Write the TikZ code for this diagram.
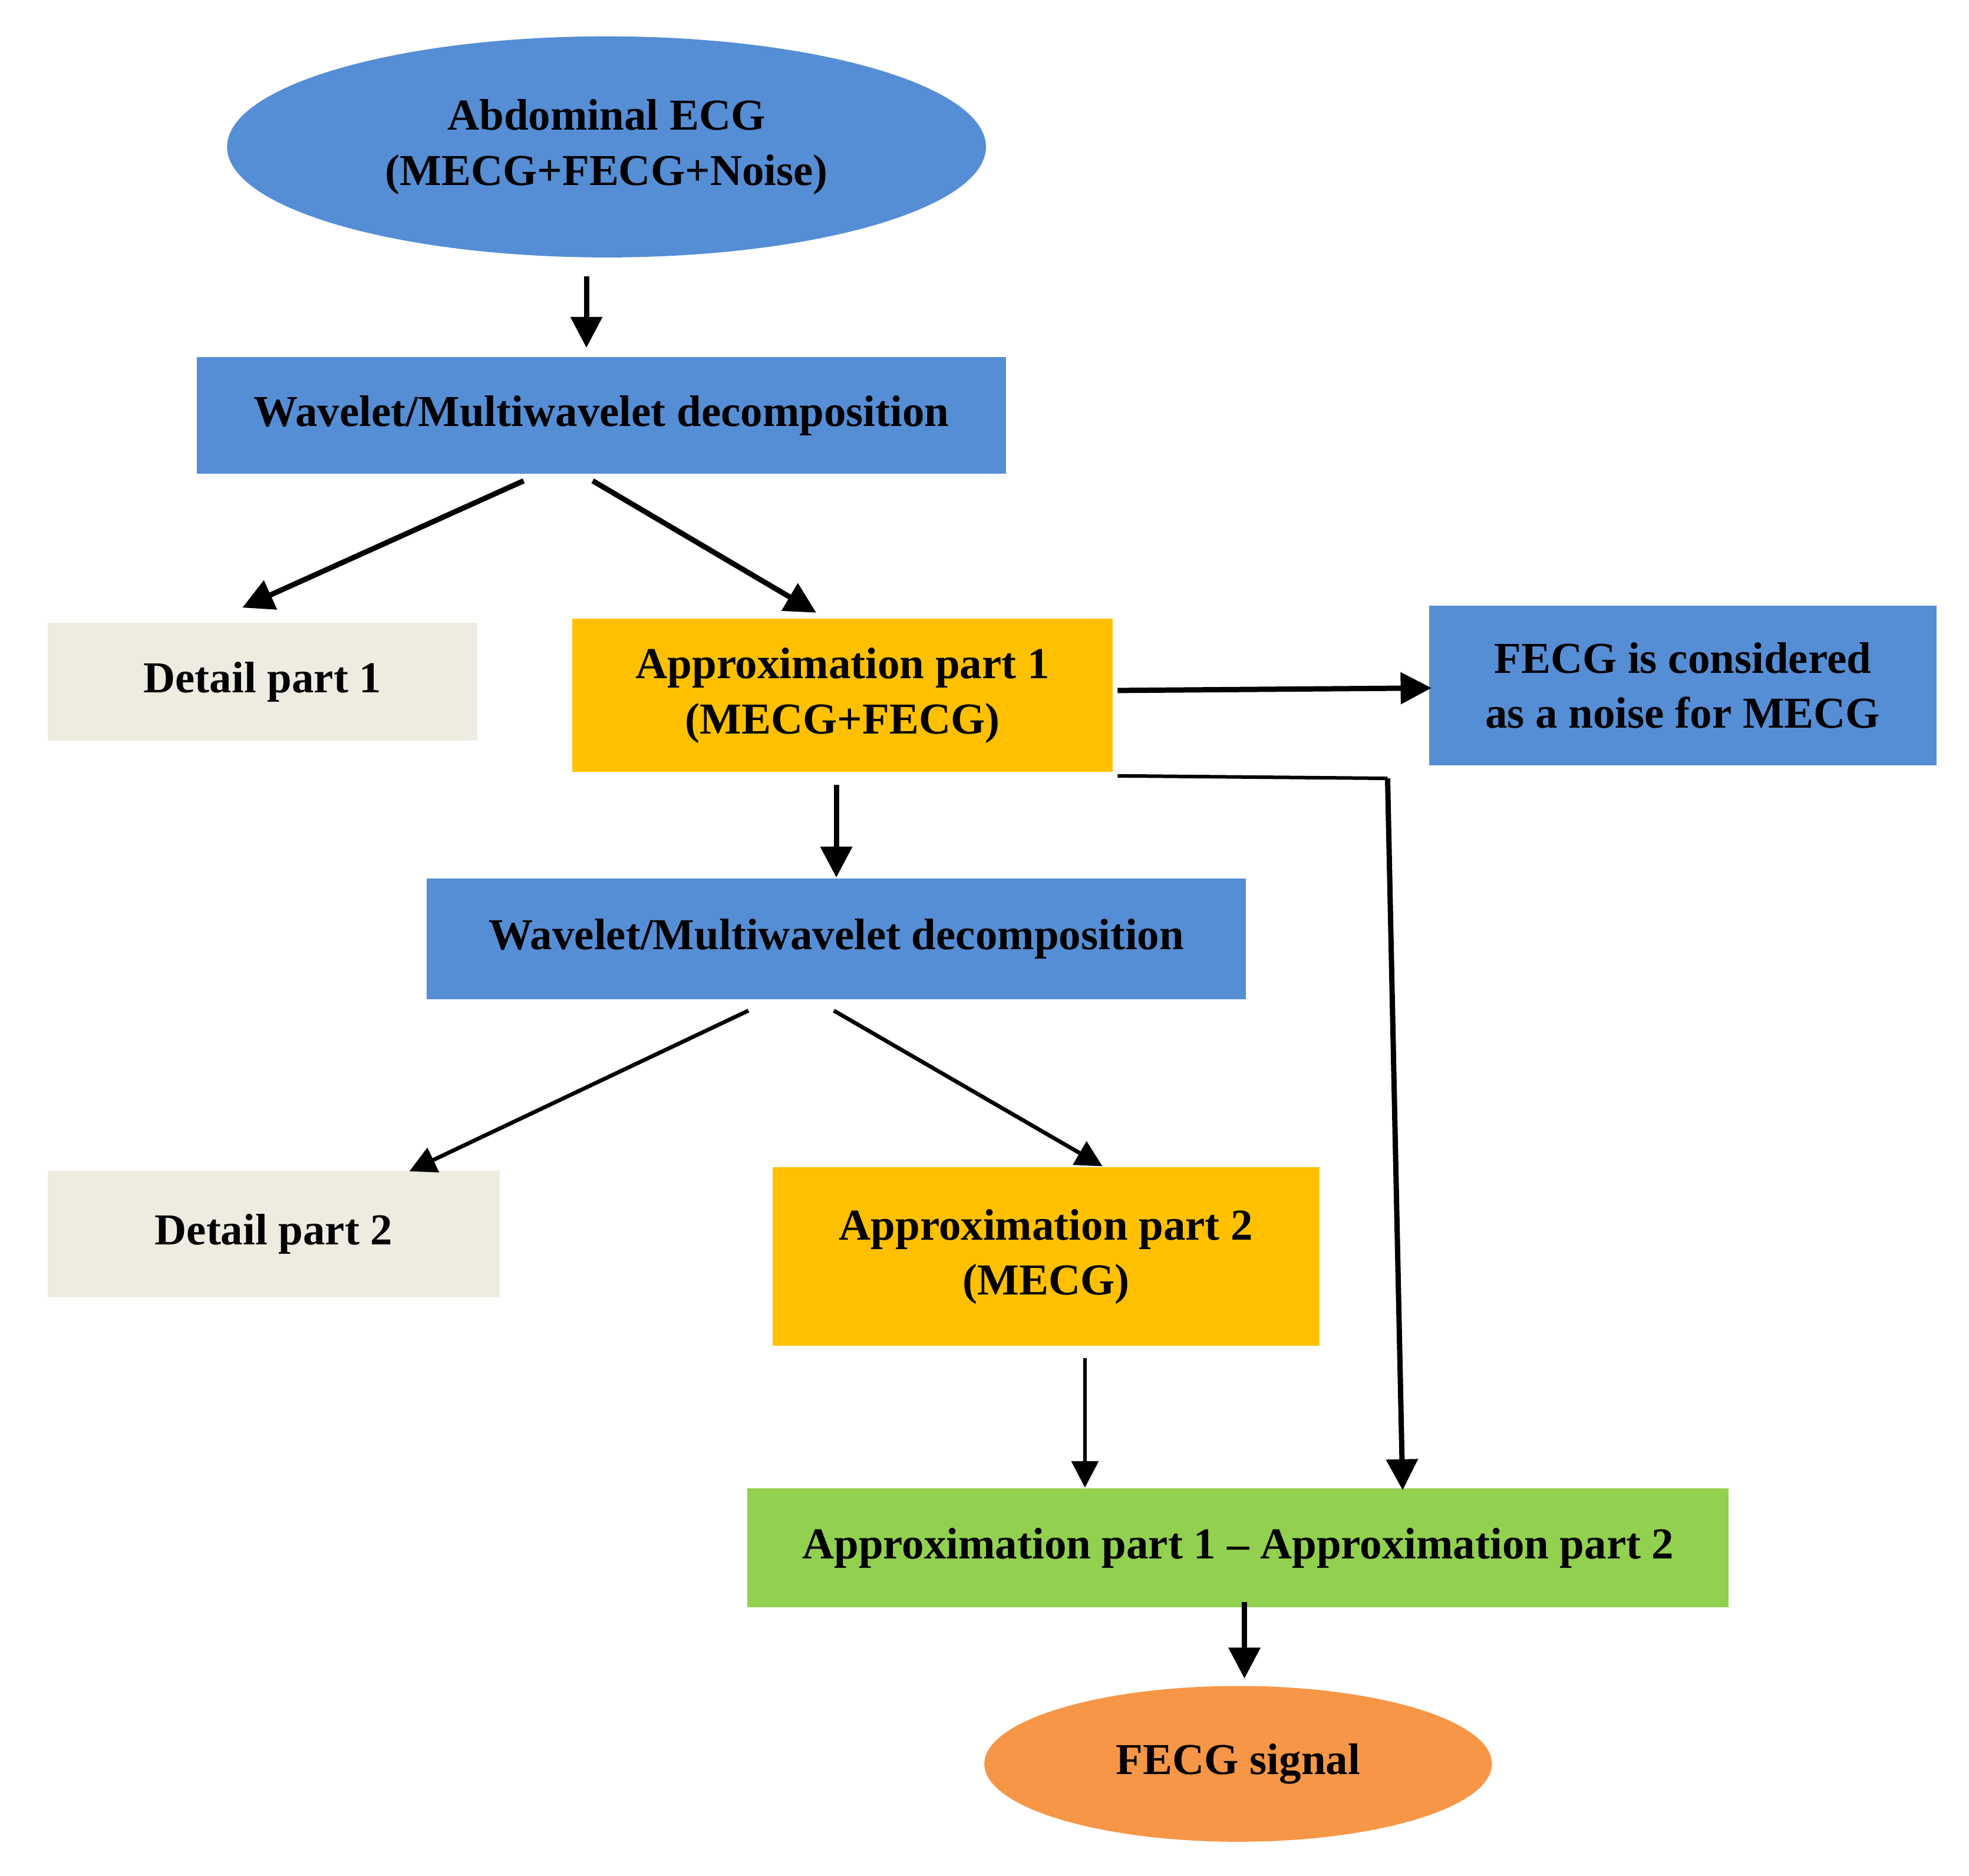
\documentclass[tikz,border=0pt]{standalone}
\usepackage{fontspec}
\setmainfont{Liberation Serif}
\usetikzlibrary{shapes.geometric,arrows.meta}
\definecolor{bl}{HTML}{558ED5}
\definecolor{gr}{HTML}{EEECE1}
\definecolor{or}{HTML}{FFC000}
\definecolor{gn}{HTML}{92D050}
\definecolor{po}{HTML}{F79646}
\begin{document}
\begin{tikzpicture}[x=0.01cm,y=-0.01cm,
  box/.style={draw=none,rectangle,inner sep=0pt,align=center,font=\fontsize{10}{12.5}\selectfont\bfseries},
  ell/.style={ellipse,inner sep=0pt,align=center,font=\fontsize{10}{12.5}\selectfont\bfseries},
  ar/.style={-{Triangle[length=7pt,width=7pt]},line width=1.2pt},
  arth/.style={-{Triangle[length=6pt,width=6pt]},line width=0.9pt}]
\useasboundingbox (0,0) rectangle (1568,1494);
\node[ell,fill=bl,minimum width=6.04cm,minimum height=1.76cm] (e1) at (483,117) {Abdominal ECG\\(MECG+FECG+Noise)};
\node[box,fill=bl,minimum width=6.44cm,minimum height=0.93cm] (w1) at (479,331) {Wavelet/Multiwavelet decomposition};
\node[box,fill=gr,minimum width=3.42cm,minimum height=0.94cm] (d1) at (209,543) {Detail part 1};
\node[box,fill=or,minimum width=4.30cm,minimum height=1.22cm] (a1) at (671,554) {Approximation part 1\\(MECG+FECG)};
\node[box,fill=bl,minimum width=4.04cm,minimum height=1.27cm] (n) at (1340,546) {FECG is considered\\as a noise for MECG};
\node[box,fill=bl,minimum width=6.52cm,minimum height=0.96cm] (w2) at (666,748) {Wavelet/Multiwavelet  decomposition};
\node[box,fill=gr,minimum width=3.60cm,minimum height=1.01cm] (d2) at (218,983) {Detail part 2};
\node[box,fill=or,minimum width=4.35cm,minimum height=1.42cm] (a2) at (833,1001) {Approximation part 2\\(MECG)};
\node[box,fill=gn,minimum width=7.81cm,minimum height=0.95cm] (g) at (986,1233) {Approximation part 1 -- Approximation part 2};
\node[ell,fill=po,minimum width=4.04cm,minimum height=1.24cm] (f) at (986,1405) {FECG signal};
\coordinate (p1) at (467,220); \coordinate (p2) at (467,277);
\coordinate (p3) at (417,383); \coordinate (p4) at (193,484);
\coordinate (p5) at (472,383); \coordinate (p6) at (650,488);
\coordinate (p7) at (890,550); \coordinate (p8) at (1140,548);
\coordinate (p9) at (890,618); \coordinate (p10) at (1105,620); \coordinate (p11) at (1117,1187);
\coordinate (p12) at (666,625); \coordinate (p13) at (666,699);
\coordinate (p14) at (596,805); \coordinate (p15) at (326,933);
\coordinate (p16) at (664,805); \coordinate (p17) at (878,929);
\coordinate (p18) at (864,1082); \coordinate (p19) at (864,1185);
\coordinate (p20) at (991,1276); \coordinate (p21) at (991,1337);
\draw[ar] (p1)--(p2);
\draw[ar] (p3)--(p4);
\draw[ar] (p5)--(p6);
\draw[ar] (p7)--(p8);
\draw[line width=0.8pt] (p9)--(p10);
\draw[ar] (p10)--(p11);
\draw[ar] (p12)--(p13);
\draw[arth] (p14)--(p15);
\draw[arth] (p16)--(p17);
\draw[arth] (p18)--(p19);
\draw[ar] (p20)--(p21);
\end{tikzpicture}
\end{document}
